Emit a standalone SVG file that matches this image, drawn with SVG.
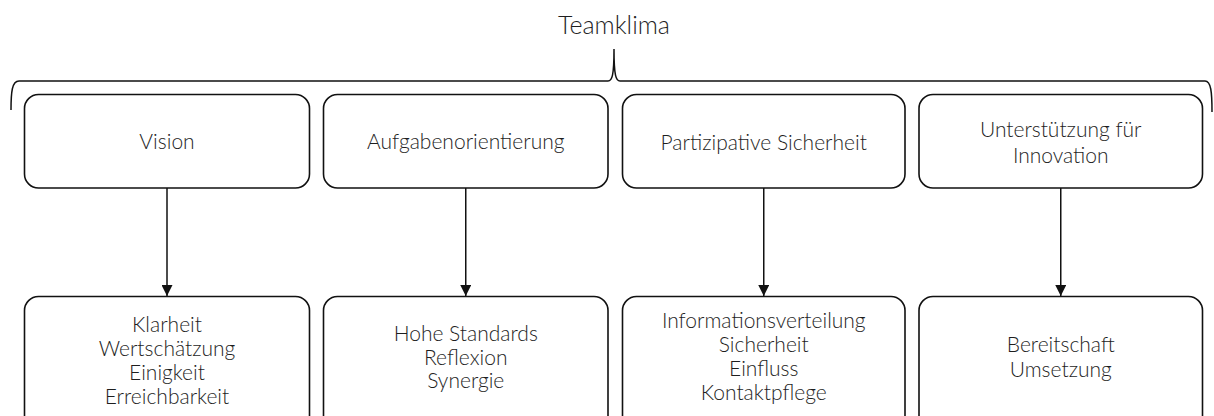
<svg xmlns="http://www.w3.org/2000/svg" width="1214" height="416" viewBox="0 0 1214 416">
  <style>
    .box { fill: #ffffff; stroke: #111111; stroke-width: 1.6; }
    .lbl { font-family: "Lato", "Liberation Sans", sans-serif; font-weight: 300; font-size: 21px; fill: #1e1e1e; text-anchor: middle; }
    .title { font-family: "Lato", "Liberation Sans", sans-serif; font-weight: 300; font-size: 25px; fill: #1e1e1e; text-anchor: middle; }
    .brace { fill: none; stroke: #111111; stroke-width: 1.5; }
    .conn { fill: none; stroke: #111111; stroke-width: 1.5; }
  </style>
  <defs>
    <marker id="arrow" markerUnits="userSpaceOnUse" markerWidth="11" markerHeight="11" refX="10" refY="5" orient="auto" viewBox="0 0 10 10">
      <path d="M0,0 L10,5 L0,10 Z" fill="#111111"/>
    </marker>
  </defs>
  <rect width="1214" height="416" fill="#ffffff"/>

  <!-- title and curly brace spanning all four dimensions -->
  <g id="title">
    <text class="title" x="614" y="34">Teamklima</text>
    <path class="brace" d="M11,110 C11,92 12,81 19,81 L608,81 C612,81 614,76 614,49 C614,76 616,81 620,81 L1205,81 C1211,81 1212,92 1212,112"/>
  </g>

  <!-- upper row: climate dimensions -->
  <g id="vision">
    <rect class="box" x="24.5" y="94.5" width="285" height="93.5" rx="14"/>
    <text class="lbl" x="167" y="149">Vision</text>
  </g>
  <g id="aufgabenorientierung">
    <rect class="box" x="323.5" y="94.5" width="284.5" height="93.5" rx="14"/>
    <text class="lbl" x="465.75" y="149">Aufgabenorientierung</text>
  </g>
  <g id="partizipative-sicherheit">
    <rect class="box" x="622.5" y="94.5" width="282.5" height="93.5" rx="14"/>
    <text class="lbl" x="763.75" y="150">Partizipative Sicherheit</text>
  </g>
  <g id="unterstuetzung">
    <rect class="box" x="919" y="94.5" width="283.5" height="93.5" rx="14"/>
    <text class="lbl" x="1060.75" y="137">Unterstützung für</text>
    <text class="lbl" x="1060.75" y="162.5">Innovation</text>
  </g>

  <!-- lower row: facets of each dimension -->
  <g id="vision-facetten">
    <rect class="box" x="24.5" y="296.5" width="285" height="140" rx="14"/>
    <text class="lbl" x="167" y="332">Klarheit</text>
    <text class="lbl" x="167" y="356">Wertschätzung</text>
    <text class="lbl" x="167" y="380">Einigkeit</text>
    <text class="lbl" x="167" y="404">Erreichbarkeit</text>
  </g>
  <g id="aufgaben-facetten">
    <rect class="box" x="323.5" y="296.5" width="284.5" height="140" rx="14"/>
    <text class="lbl" x="465.75" y="341">Hohe Standards</text>
    <text class="lbl" x="465.75" y="364.5">Reflexion</text>
    <text class="lbl" x="465.75" y="388">Synergie</text>
  </g>
  <g id="sicherheit-facetten">
    <rect class="box" x="622.5" y="296.5" width="282.5" height="140" rx="14"/>
    <text class="lbl" x="763.75" y="328">Informationsverteilung</text>
    <text class="lbl" x="763.75" y="352">Sicherheit</text>
    <text class="lbl" x="763.75" y="376">Einfluss</text>
    <text class="lbl" x="763.75" y="400">Kontaktpflege</text>
  </g>
  <g id="innovation-facetten">
    <rect class="box" x="919" y="296.5" width="283.5" height="140" rx="14"/>
    <text class="lbl" x="1060.75" y="352">Bereitschaft</text>
    <text class="lbl" x="1060.75" y="376.5">Umsetzung</text>
  </g>

  <!-- connectors from each dimension to its facets -->
  <g id="connectors">
    <line class="conn" x1="167" y1="188" x2="167" y2="296" marker-end="url(#arrow)"/>
    <line class="conn" x1="465.75" y1="188" x2="465.75" y2="296" marker-end="url(#arrow)"/>
    <line class="conn" x1="763.75" y1="188" x2="763.75" y2="296" marker-end="url(#arrow)"/>
    <line class="conn" x1="1060.75" y1="188" x2="1060.75" y2="296" marker-end="url(#arrow)"/>
  </g>
</svg>
